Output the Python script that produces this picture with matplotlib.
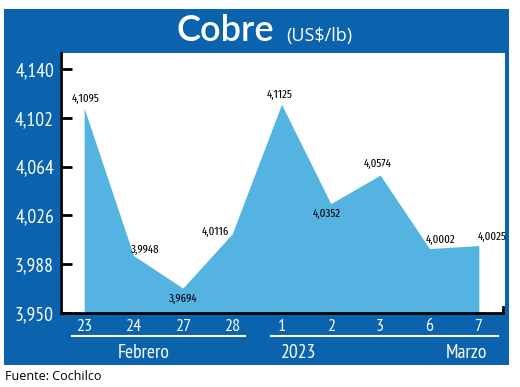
import matplotlib.pyplot as plt
from matplotlib.patches import Rectangle

days = ['23', '24', '27', '28', '1', '2', '3', '6', '7']
prices = [4.1095, 3.9948, 3.9694, 4.0116, 4.1125, 4.0352, 4.0574, 4.0002, 4.0025]
price_labels = ['4,1095', '3,9948', '3,9694', '4,0116', '4,1125', '4,0352', '4,0574', '4,0002', '4,0025']
yticks = [3.950, 3.988, 4.026, 4.064, 4.102, 4.140]
ytick_labels = ['3,950', '3,988', '4,026', '4,064', '4,102', '4,140']

# label offsets in pixels (dx, dy)
offsets = [(1, 9), (12, 6), (0, -11), (-17, 2), (-2, 9), (-4, -10), (-3, 11), (11, 9), (13, 9)]

navy = '#0b63ad'
light = '#55b3e2'
narrow = ['PT Sans Narrow', 'DejaVu Sans']
xcond = ['Fira Sans Extra Condensed', 'PT Sans Narrow', 'DejaVu Sans']

fig = plt.figure(figsize=(5.2, 3.87), dpi=100)
W, H = 520, 387
fig.patches.append(Rectangle((4 / W, (H - 365) / H), 505 / W, 356 / H,
                             transform=fig.transFigure, facecolor=navy, edgecolor='none', zorder=-10))
# white plot panel
fig.patches.append(Rectangle((60 / W, (H - 313) / H), 445 / W, 260 / H,
                             transform=fig.transFigure, facecolor='white', edgecolor='none', zorder=-9))

ax = fig.add_axes([61 / W, (H - 313) / H, 442 / W, 260 / H])
ax.set_facecolor('white')

x = list(range(len(days)))
ax.fill_between(x, prices, 3.90, color=light, lw=0, zorder=1)

for i in x:
    ax.annotate(price_labels[i], (i, prices[i]), xytext=offsets[i], textcoords='offset pixels',
                ha='center', va='center', fontsize=8.5, family=xcond, color='black')

ax.set_xlim(-0.47, 8.49)
ax.set_ylim(3.950, 3.950 + 260 / 1284)
ax.set_yticks(yticks)
ax.set_yticklabels(ytick_labels, family=narrow, fontsize=14, color='white')
ax.set_xticks(x)
ax.set_xticklabels(days, family=narrow, fontsize=13, color='white')
ax.tick_params(axis='y', direction='in', length=8, width=2, pad=5, color='black')
ax.tick_params(axis='x', length=0, pad=4)

ax.spines['top'].set_visible(False)
ax.spines['right'].set_bounds(3.950, 3.9545)
ax.spines['right'].set_linewidth(2)
ax.spines['left'].set_linewidth(2)
ax.spines['bottom'].set_linewidth(2)

tr = ax.get_xaxis_transform()
ax.plot([-0.25, 3.27], [-0.088, -0.088], color='white', lw=1.5, transform=tr, clip_on=False)
ax.plot([3.79, 8.38], [-0.088, -0.088], color='white', lw=1.5, transform=tr, clip_on=False)
for xs, txt in [(1.2, 'Febrero'), (4.35, '2023'), (7.75, 'Marzo')]:
    ax.text(xs, -0.152, txt, transform=tr, ha='center', va='center',
            family=narrow, fontsize=14, color='white')

fig.text(225 / W, (H - 41) / H, 'Cobre', ha='center', va='baseline', color='white',
         fontsize=26, family=['Lato', 'DejaVu Sans'], fontweight='semibold')
fig.text(286 / W, (H - 41) / H, '(US$/lb)', ha='left', va='baseline', color='white',
         fontsize=13, family=['Open Sans', 'DejaVu Sans'])
fig.text(5 / W, (H - 377) / H, 'Fuente: Cochilco', ha='left', va='center', color='black',
         fontsize=9, family=['Open Sans', 'DejaVu Sans'])

fig.savefig('out.png', dpi=100)
